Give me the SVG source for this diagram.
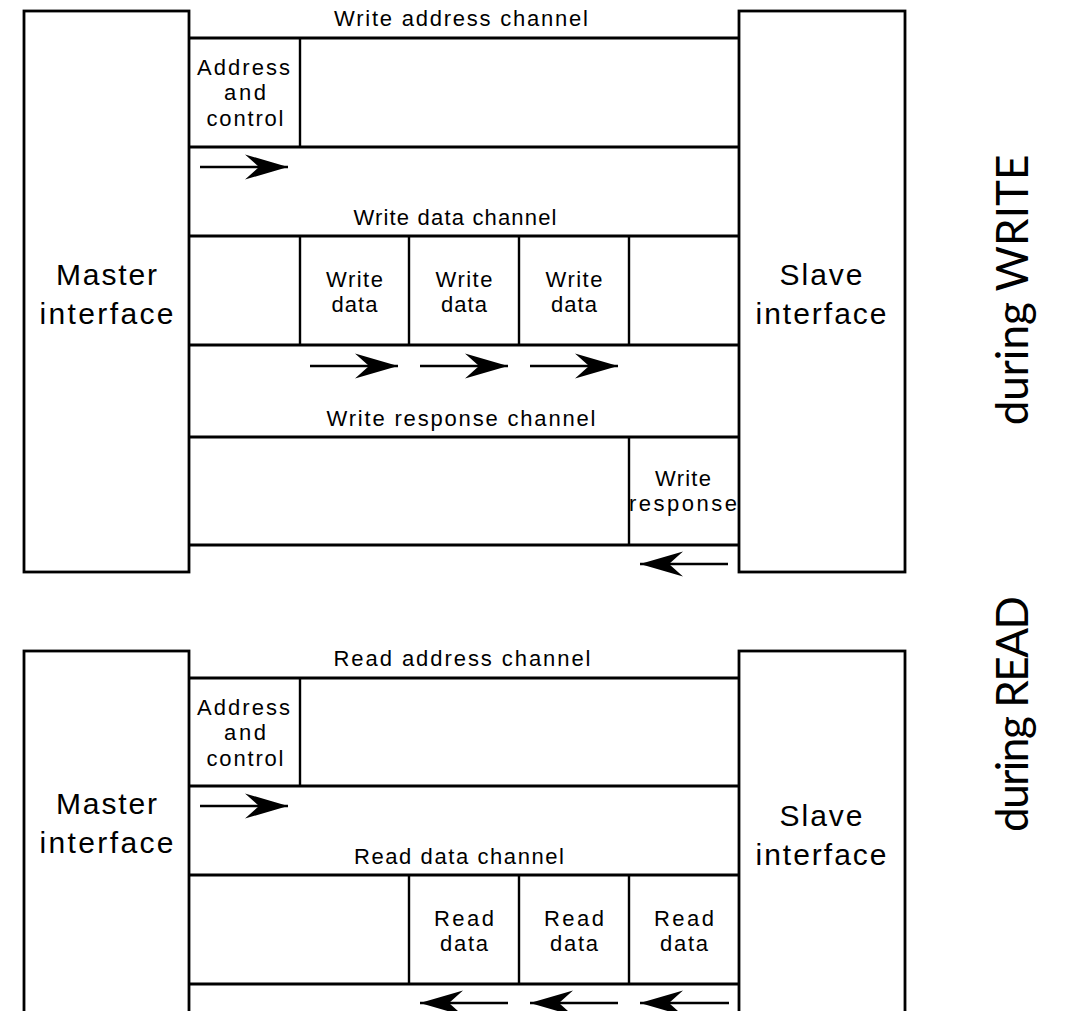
<svg xmlns="http://www.w3.org/2000/svg" width="1066" height="1011" viewBox="0 0 1066 1011">
  <style>
    .box { fill: #fff; stroke: #000; stroke-width: 2.8; }
    .ln { fill: none; stroke: #000; stroke-width: 2.8; }
    .dv { fill: none; stroke: #000; stroke-width: 2.4; }
    .t { font-family: "Liberation Sans", Arial, sans-serif; font-size: 22px; fill: #000; text-anchor: middle; }
    .big { font-size: 30px; }
    .side { font-family: Lato, "Open Sans", sans-serif; font-size: 44px; fill: #000; text-anchor: middle; }
    .arr { fill: none; stroke: #000; stroke-width: 2.6; marker-end: url(#ah); }
  </style>
  <defs>
    <marker id="ah" viewBox="-45 -14 46 28" refX="0" refY="0" markerWidth="46" markerHeight="28" markerUnits="userSpaceOnUse" orient="auto">
      <path d="M0,0 L-43,-12.5 L-29,0 L-43,12.5 Z" fill="#000"/>
    </marker>
  </defs>
  <rect width="1066" height="1011" fill="#fff"/>

  <!-- ===== Write transaction ===== -->
  <g id="w-master">
    <rect class="box" x="24" y="11" width="165" height="561"/>
    <text class="t big" x="106.5" y="285" textLength="101" lengthAdjust="spacing">Master</text>
    <text class="t big" x="106.5" y="324" textLength="134" lengthAdjust="spacing">interface</text>
  </g>
  <g id="w-slave">
    <rect class="box" x="739" y="11" width="166" height="561"/>
    <text class="t big" x="821" y="285" textLength="83" lengthAdjust="spacing">Slave</text>
    <text class="t big" x="821" y="324" textLength="131" lengthAdjust="spacing">interface</text>
  </g>

  <g id="w-address-channel">
    <text class="t" x="461" y="26" textLength="254" lengthAdjust="spacing">Write address channel</text>
    <path class="ln" d="M189,38 H739 M189,147 H739"/>
    <path class="dv" d="M300,38 V147"/>
    <text class="t" x="243.5" y="75" textLength="93" lengthAdjust="spacing">Address</text>
    <text class="t" x="245" y="100" textLength="42" lengthAdjust="spacing">and</text>
    <text class="t" x="245" y="126" textLength="77" lengthAdjust="spacing">control</text>
  </g>

  <g id="w-data-channel">
    <text class="t" x="455" y="225" textLength="203" lengthAdjust="spacing">Write data channel</text>
    <path class="ln" d="M189,236 H739 M189,345 H739"/>
    <path class="dv" d="M300,236 V345 M409,236 V345 M519,236 V345 M629,236 V345"/>
    <text class="t" x="354.5" y="287" textLength="57" lengthAdjust="spacing">Write</text>
    <text class="t" x="354.5" y="312" textLength="46" lengthAdjust="spacing">data</text>
    <text class="t" x="464" y="287" textLength="57" lengthAdjust="spacing">Write</text>
    <text class="t" x="464" y="312" textLength="46" lengthAdjust="spacing">data</text>
    <text class="t" x="574" y="287" textLength="57" lengthAdjust="spacing">Write</text>
    <text class="t" x="574" y="312" textLength="46" lengthAdjust="spacing">data</text>
  </g>

  <g id="w-response-channel">
    <text class="t" x="461" y="426" textLength="269" lengthAdjust="spacing">Write response channel</text>
    <path class="ln" d="M189,437 H739 M189,545 H739"/>
    <path class="dv" d="M629,437 V545"/>
    <text class="t" x="683" y="486" textLength="56" lengthAdjust="spacing">Write</text>
    <text class="t" x="683" y="511" textLength="108" lengthAdjust="spacing">response</text>
  </g>

  <text class="side" transform="translate(1028,290) rotate(-90)">during WRITE</text>

  <!-- ===== Read transaction ===== -->
  <g id="r-master">
    <rect class="box" x="24" y="651" width="165" height="380"/>
    <text class="t big" x="106.5" y="814" textLength="101" lengthAdjust="spacing">Master</text>
    <text class="t big" x="106.5" y="853" textLength="134" lengthAdjust="spacing">interface</text>
  </g>
  <g id="r-slave">
    <rect class="box" x="739" y="651" width="166" height="380"/>
    <text class="t big" x="821" y="826" textLength="83" lengthAdjust="spacing">Slave</text>
    <text class="t big" x="821" y="865" textLength="131" lengthAdjust="spacing">interface</text>
  </g>

  <g id="r-address-channel">
    <text class="t" x="462" y="666" textLength="257" lengthAdjust="spacing">Read address channel</text>
    <path class="ln" d="M189,678 H739 M189,786 H739"/>
    <path class="dv" d="M300,678 V786"/>
    <text class="t" x="243.5" y="715" textLength="93" lengthAdjust="spacing">Address</text>
    <text class="t" x="245" y="740" textLength="42" lengthAdjust="spacing">and</text>
    <text class="t" x="245" y="766" textLength="77" lengthAdjust="spacing">control</text>
  </g>

  <g id="r-data-channel">
    <text class="t" x="459" y="864" textLength="210" lengthAdjust="spacing">Read data channel</text>
    <path class="ln" d="M189,875 H739 M189,984 H739"/>
    <path class="dv" d="M409,875 V984 M519,875 V984 M629,875 V984"/>
    <text class="t" x="464" y="926" textLength="60" lengthAdjust="spacing">Read</text>
    <text class="t" x="464" y="951" textLength="48" lengthAdjust="spacing">data</text>
    <text class="t" x="574" y="926" textLength="60" lengthAdjust="spacing">Read</text>
    <text class="t" x="574" y="951" textLength="48" lengthAdjust="spacing">data</text>
    <text class="t" x="684" y="926" textLength="60" lengthAdjust="spacing">Read</text>
    <text class="t" x="684" y="951" textLength="48" lengthAdjust="spacing">data</text>
  </g>

  <text class="side" transform="translate(1028,714) rotate(-90)" textLength="236" lengthAdjust="spacing">during READ</text>

  <!-- transfer direction arrows -->
  <g id="connectors">
    <path class="arr" d="M200,167 H288"/>
    <path class="arr" d="M310,366 H398"/>
    <path class="arr" d="M420,366 H508"/>
    <path class="arr" d="M530,366 H618"/>
    <path class="arr" d="M728,564 H640"/>
    <path class="arr" d="M200,806 H288"/>
    <path class="arr" d="M508,1003 H420"/>
    <path class="arr" d="M618,1003 H530"/>
    <path class="arr" d="M729,1003 H640"/>
  </g>
</svg>
